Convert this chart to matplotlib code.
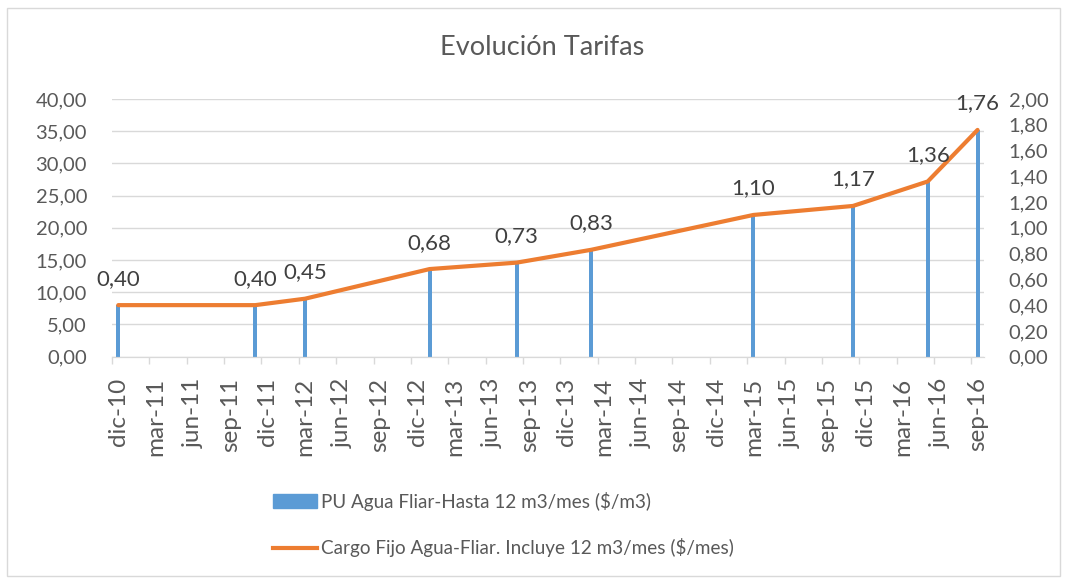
import matplotlib
matplotlib.use("Agg")
import numpy as np
from matplotlib import pyplot as plt
from matplotlib.patches import Rectangle, Patch
from matplotlib.lines import Line2D

plt.rcParams['font.family'] = ['Lato', 'DejaVu Sans']

# months counted from dic-10 (index 0) to sep-16 (index 69)
month_names = ['ene', 'feb', 'mar', 'abr', 'may', 'jun',
               'jul', 'ago', 'sep', 'oct', 'nov', 'dic']
n_months = 70
start_month = 11  # dic
start_year = 10

# data points: month index, bar value (left axis), line value (right axis)
point_months = [0, 11, 15, 25, 32, 38, 51, 59, 65, 69]
pu_agua = [8.0, 8.0, 9.0, 13.6, 14.6, 16.6, 22.0, 23.4, 27.2, 35.2]
cargo_fijo = [0.40, 0.40, 0.45, 0.68, 0.73, 0.83, 1.10, 1.17, 1.36, 1.76]

bar_label = "PU Agua Fliar-Hasta 12 m3/mes ($/m3)"
line_label = "Cargo Fijo Agua-Fliar. Incluye 12 m3/mes ($/mes)"

blue = '#5B9BD5'
orange = '#ED7D31'
grey_txt = '#595959'
grid_col = '#D9D9D9'


def month_label(i):
    m = (start_month + i) % 12
    y = start_year + (start_month + i) // 12
    return f"{month_names[m]}-{y:02d}"


def comma(v):
    return f"{v:.2f}".replace('.', ',')


fig = plt.figure(figsize=(10.67, 5.79), dpi=100)
ax = fig.add_axes([0.105, 0.384, 0.817, 0.445])
ax2 = ax.twinx()

ax.bar(point_months, pu_agua, width=0.32, color=blue, zorder=2)
ax2.plot(point_months, cargo_fijo, color=orange, linewidth=3,
         solid_capstyle='round', solid_joinstyle='round', zorder=3)
for x, v in zip(point_months, cargo_fijo):
    ax2.annotate(comma(v), (x, v), xytext=(0, 19), textcoords='offset points',
                 ha='center', va='center', fontsize=16, color='#404040')

ax.set_xlim(-0.5, n_months - 0.5)
ax.set_ylim(0, 40)
ax2.set_ylim(0, 2)

ax.tick_params(axis='x', which='major', length=0, pad=15)
ax.tick_params(axis='x', which='minor', length=5, color=grid_col, width=1)
ax.tick_params(axis='y', length=0, pad=18)
ax2.tick_params(axis='y', length=0, pad=18)

left_ticks = np.arange(0, 40.1, 5)
right_ticks = np.arange(0, 2.01, 0.2)
ax.set_yticks(left_ticks)
ax.set_yticklabels([comma(v) for v in left_ticks], fontsize=14.5, color=grey_txt)
ax2.set_yticks(right_ticks)
ax2.set_yticklabels([comma(v) for v in right_ticks], fontsize=14.5, color=grey_txt)

label_pos = list(range(0, n_months, 3))
ax.set_xticks(label_pos)
ax.set_xticklabels([month_label(i) for i in label_pos], rotation=90, color=grey_txt)
ax.set_xticks([p - 0.5 for p in label_pos], minor=True)
for t in ax.get_xticklabels():
    t.set_fontsize(17.5)

ax.yaxis.grid(True, color=grid_col, linewidth=1)
ax.set_axisbelow(True)
for a in (ax, ax2):
    for s in ('top', 'left', 'right'):
        a.spines[s].set_visible(False)
    a.spines['bottom'].set_color(grid_col)

fig.text(0.508, 0.918, "Evolución Tarifas", ha='center', va='center',
         fontsize=19.5, color=grey_txt)

handles = [Patch(color=blue), Line2D([0], [0], color=orange, linewidth=3)]
fig.legend(handles, [bar_label, line_label], loc='center left',
           bbox_to_anchor=(273 / 1067, 1 - 524.5 / 579), frameon=False,
           fontsize=13.6, labelcolor=grey_txt, handlelength=2.35,
           handletextpad=0.2, labelspacing=1.48, borderpad=0, borderaxespad=0)

fig.patches.append(Rectangle((0.007, 0.005), 0.986, 0.982, transform=fig.transFigure,
                             fill=False, edgecolor=grid_col, linewidth=1))

plt.savefig("out.png", dpi=100)
plt.close()
